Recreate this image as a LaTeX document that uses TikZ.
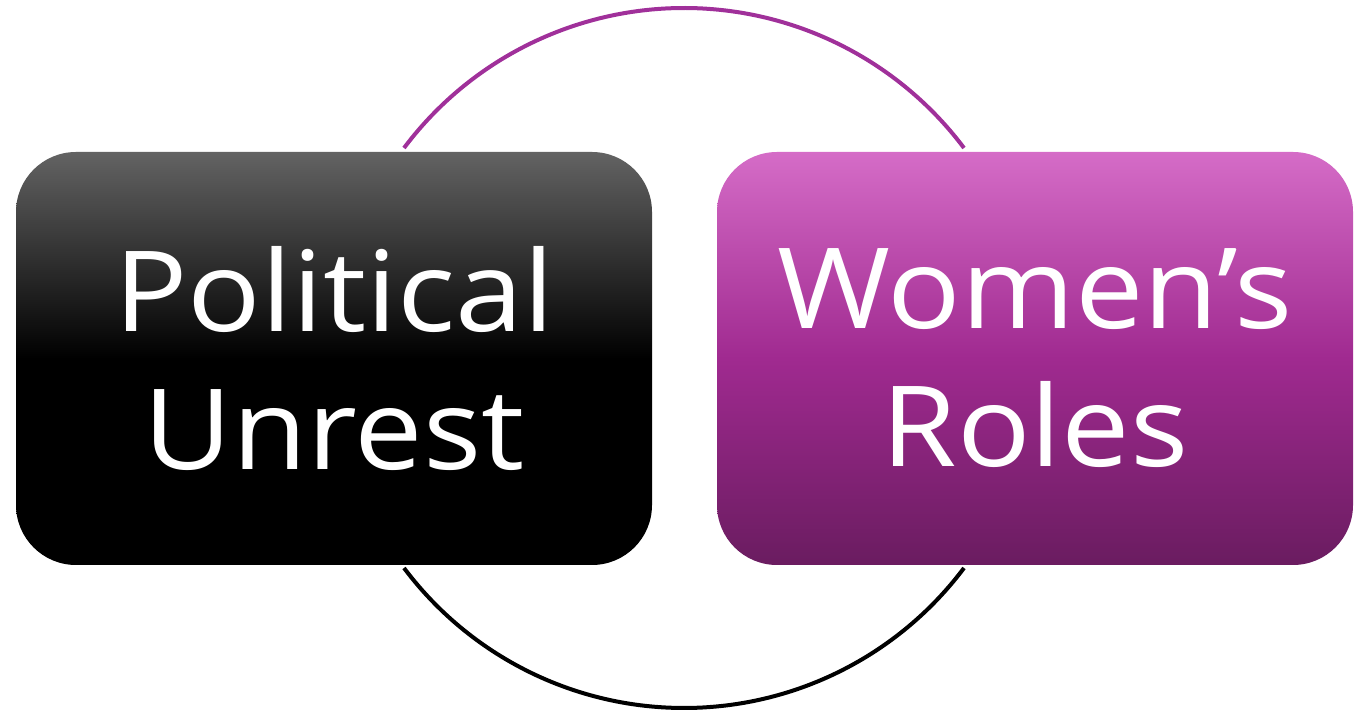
\documentclass[tikz,border=0pt]{standalone}
\usepackage{fontspec}
\setmainfont[FakeStretch=1.09]{Open Sans}
\usetikzlibrary{calc}
\definecolor{ltop}{HTML}{636363}
\definecolor{rtop}{HTML}{D56CC7}
\definecolor{rmid}{HTML}{A02A90}
\definecolor{rbot}{HTML}{6A1C60}
\definecolor{arcpurple}{HTML}{A0309A}
\tikzset{
  box/.style={rounded corners=60pt, minimum width=636pt, minimum height=413pt, inner sep=0pt,
    text=white, align=center, font=\fontsize{112}{138}\selectfont},
  ring/.style={line width=4pt},
}
\begin{document}
\begin{tikzpicture}[x=1pt,y=1pt]
\useasboundingbox (0,0) rectangle (1368,712);
\coordinate (c) at (684,354);
\draw[ring, arcpurple] ($(c)+(143.13:350)$) arc[start angle=143.13, end angle=36.87, radius=350];
\draw[ring, black] ($(c)+(216.87:350)$) arc[start angle=216.87, end angle=323.13, radius=350];
\node[box, top color=ltop, bottom color=black, middle color=black] (pu) at (334,353.5) {Political\\Unrest};
\node[box, top color=rtop, bottom color=rbot, middle color=rmid] (wr) at (1035,353.5) {Women’s\\Roles};
\end{tikzpicture}
\end{document}
